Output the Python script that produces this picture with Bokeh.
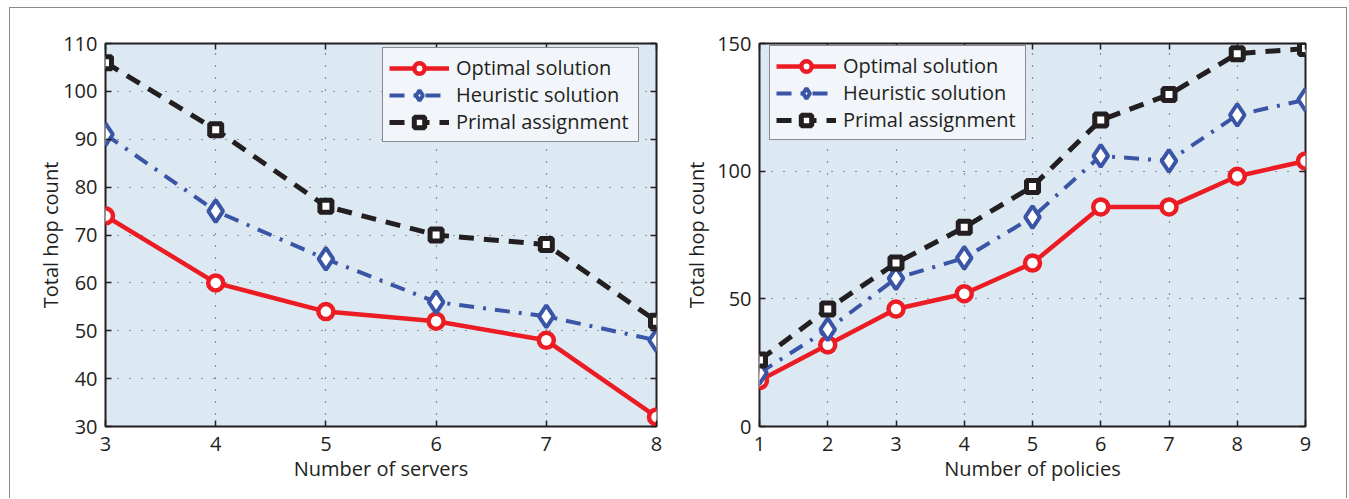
from bokeh.plotting import figure
from bokeh.models import LinearAxis, FixedTicker, Legend, LegendItem, Range1d
from bokeh.layouts import row
from bokeh.embed import file_html
from bokeh.resources import INLINE

# ---------------- data ----------------
servers = [3, 4, 5, 6, 7, 8]
srv_optimal = [74, 60, 54, 52, 48, 32]
srv_heuristic = [91, 75, 65, 56, 53, 48]
srv_primal = [106, 92, 76, 70, 68, 52]

policies = [1, 2, 3, 4, 5, 6, 7, 8, 9]
pol_optimal = [18, 32, 46, 52, 64, 86, 86, 98, 104]
pol_heuristic = [21, 38, 58, 66, 82, 106, 104, 122, 128]
pol_primal = [26, 46, 64, 78, 94, 120, 130, 146, 148]

series_names = ["Optimal solution", "Heuristic solution", "Primal assignment"]
srv_yticks = [30, 40, 50, 60, 70, 80, 90, 100, 110]
pol_yticks = [0, 50, 100, 150]

FONT = "Open Sans"
RED = "#ec1c24"
BLUE = "#3b55a6"
BLACK = "#231f20"
BG = "#dce9f3"
LEGBG = "#f2f5fa"


def style_axis(ax, ticks, show_labels=True):
    ax.ticker = FixedTicker(ticks=ticks)
    ax.axis_line_color = None
    ax.major_tick_in = 6
    ax.major_tick_out = 0
    ax.major_tick_line_color = BLACK
    ax.major_tick_line_width = 1.5
    ax.minor_tick_line_color = None
    ax.major_label_text_font = FONT
    ax.major_label_text_color = BLACK
    ax.major_label_text_font_size = "20px"
    if not show_labels:
        ax.major_label_overrides = {t: "" for t in ticks}
        ax.major_label_standoff = 0
    ax.axis_label_text_font = FONT
    ax.axis_label_text_font_size = "20px"
    ax.axis_label_text_font_style = "normal"
    ax.axis_label_text_color = BLACK


def make_plot(x, ys, xr, yr, xticks, yticks, xlabel, width, borders, leg_loc, ylab_standoff):
    p = figure(width=width, height=491, x_range=Range1d(*xr), y_range=Range1d(*yr),
               output_backend="svg", toolbar_location=None,
               background_fill_color=BG, border_fill_color="white",
               min_border_left=borders[0], min_border_right=borders[1],
               min_border_top=borders[2], min_border_bottom=borders[3])
    p.outline_line_color = BLACK
    p.outline_line_width = 2
    p.outline_line_alpha = 1

    style_axis(p.xaxis[0], xticks)
    style_axis(p.yaxis[0], yticks)
    p.xaxis[0].axis_label = xlabel
    p.yaxis[0].axis_label = "Total hop count"
    p.xaxis[0].major_label_standoff = 10
    p.yaxis[0].major_label_standoff = 8
    p.xaxis[0].axis_label_standoff = 1
    p.yaxis[0].axis_label_standoff = ylab_standoff

    top = LinearAxis()
    style_axis(top, xticks, show_labels=False)
    p.add_layout(top, "above")
    right = LinearAxis()
    style_axis(right, yticks, show_labels=False)
    p.add_layout(right, "right")

    p.xgrid.ticker = FixedTicker(ticks=xticks)
    p.ygrid.ticker = FixedTicker(ticks=yticks)
    for g in (p.xgrid[0], p.ygrid[0]):
        g.grid_line_color = "#3a3a3a"
        g.grid_line_width = 1.2
        g.grid_line_dash = "1 11"

    specs = [
        dict(color=RED, dash="solid", lw=4.5, marker="circle", size=15, mlw=4.5),
        dict(color=BLUE, dash="15 9 3 9", lw=4, marker="diamond", size=22, mlw=4),
        dict(color=BLACK, dash="15 10", lw=5, marker="square", size=12, mlw=5),
    ]
    items = []
    for name, yv, s in zip(series_names, ys, specs):
        ln = p.line(x, yv, line_color=s["color"], line_width=s["lw"], line_dash=s["dash"])
        sc = p.scatter(x, yv, marker=s["marker"], size=s["size"], fill_color="white",
                       line_color=s["color"], line_width=s["mlw"])
        items.append(LegendItem(label=name, renderers=[ln, sc]))

    leg = Legend(items=items, location=leg_loc)
    leg.margin = 0
    leg.padding = 6
    leg.spacing = 0
    leg.label_height = 26
    leg.glyph_height = 26
    leg.glyph_width = 60
    leg.label_width = 176
    leg.label_standoff = 7
    leg.label_text_font = FONT
    leg.label_text_font_size = "20px"
    leg.label_text_color = BLACK
    leg.background_fill_color = LEGBG
    leg.background_fill_alpha = 1
    leg.border_line_color = BLACK
    leg.border_line_width = 1.5
    p.add_layout(leg, "center")
    return p


p1 = make_plot(servers, [srv_optimal, srv_heuristic, srv_primal], (3, 8), (30, 110),
               servers, srv_yticks, "Number of servers", 670, (95, 24, 33, 73),
               (277, 284), -4)
p2 = make_plot(policies, [pol_optimal, pol_heuristic, pol_primal], (1, 9), (0, 150),
               policies, pol_yticks, "Number of policies", 666, (73, 41, 35, 71),
               (10, 286), 4)

layout = row(p1, p2, margin=(8, 0, 0, 10),
             styles={"box-shadow": "-1px -1px 0 0 #8a8a8a, 1px -1px 0 0 #8a8a8a"})

open("out.html", "w").write(file_html(layout, INLINE))
